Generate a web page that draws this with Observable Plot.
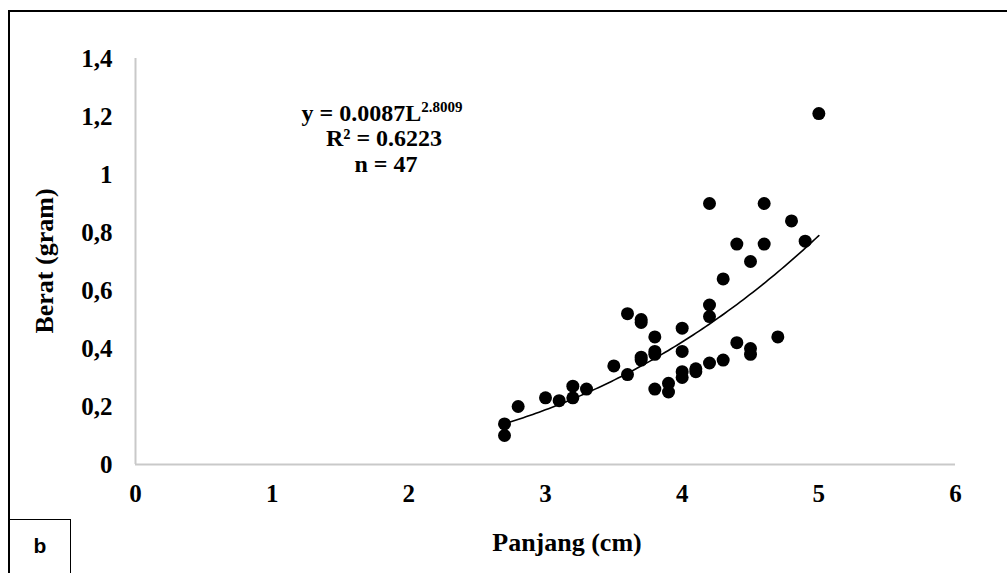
<!DOCTYPE html>
<html><head><meta charset="utf-8">
<script src="https://cdn.jsdelivr.net/npm/d3@7"></script>
<script src="https://cdn.jsdelivr.net/npm/@observablehq/plot@0.6"></script>
<style>
body{margin:0;background:#fff;}
#wrap{position:relative;width:1007px;height:573px;overflow:hidden;background:#fff;}
#frame{position:absolute;left:8px;top:10px;width:1010px;height:620px;border:2.5px solid #000;box-sizing:border-box;pointer-events:none;}
#bbox{position:absolute;left:9px;top:519px;width:62px;height:80px;border:1.5px solid #000;box-sizing:border-box;background:#fff;}
#bbox span{position:absolute;left:0;width:100%;top:14px;text-align:center;font:bold 21px "Liberation Sans",Arial,sans-serif;color:#000;}
#chart{position:absolute;left:0;top:0;}
</style>
</head><body>
<div id="wrap"><div id="chart"></div><div id="frame"></div><div id="bbox"><span>b</span></div></div>
<script>
// Data
const panjang = [5.0, 4.2, 4.6, 4.8, 4.4, 4.6, 4.9, 4.5, 4.3, 4.2, 4.2, 3.6, 3.7, 3.7, 3.8, 4.0, 3.8, 3.8, 4.0, 3.7, 3.7, 3.5, 3.6, 4.4, 4.5, 4.5, 4.7, 4.3, 4.2, 4.1, 4.1, 4.0, 4.0, 3.8, 3.9, 3.9, 3.3, 3.2, 3.2, 3.1, 3.0, 2.8, 2.7, 2.7];
const berat   = [1.21, 0.90, 0.90, 0.84, 0.76, 0.76, 0.77, 0.70, 0.64, 0.55, 0.51, 0.52, 0.50, 0.49, 0.44, 0.47, 0.39, 0.38, 0.39, 0.37, 0.36, 0.34, 0.31, 0.42, 0.40, 0.38, 0.44, 0.36, 0.35, 0.33, 0.32, 0.32, 0.30, 0.26, 0.28, 0.25, 0.26, 0.27, 0.23, 0.22, 0.23, 0.20, 0.14, 0.10];
const xTicks = [0, 1, 2, 3, 4, 5, 6];
const yTicks = [0, 0.2, 0.4, 0.6, 0.8, 1.0, 1.2, 1.4];
const coefA = 0.0087, coefB = 2.8009, r2 = "0.6223", nObs = 47;
const xTitle = "Panjang (cm)", yTitle = "Berat (gram)";

const points = panjang.map((L, i) => ({L, W: berat[i]}));
const [lmin, lmax] = d3.extent(panjang);
const fit = d3.range(0, 101).map(i => {const L = lmin + (lmax - lmin) * i / 100; return {L, W: coefA * Math.pow(L, coefB)};});

const serif = "'Liberation Serif','Times New Roman',serif";
const plot = Plot.plot({
  width: 1007, height: 573,
  marginLeft: 135, marginRight: 52, marginTop: 58, marginBottom: 109,
  style: {fontFamily: serif, fontWeight: "bold", fontSize: "25px", color: "#000", background: "transparent"},
  x: {domain: [0, 6]},
  y: {domain: [0, 1.4]},
  marks: [
    Plot.ruleX([0], {stroke: "#c9c9c9", strokeWidth: 2}),
    Plot.ruleY([0], {stroke: "#c9c9c9", strokeWidth: 2}),
    Plot.axisX({ticks: xTicks, tickSize: 0, tickPadding: 20, label: null, fontSize: 25, tickFormat: d => String(d)}),
    Plot.axisY({ticks: yTicks, tickSize: 0, tickPadding: 23, label: null, fontSize: 25,
      tickFormat: d => String(+d.toFixed(1)).replace(".", ",")}),
    Plot.line(fit, {x: "L", y: "W", stroke: "#000", strokeWidth: 1.6}),
    Plot.dot(points, {x: "L", y: "W", r: 6.5, fill: "#000", stroke: null})
  ]
});
document.getElementById("chart").appendChild(plot);

const svg = d3.select(plot);
svg.append("text").attr("x", 567).attr("y", 551).attr("text-anchor", "middle")
  .attr("font-family", serif).attr("font-weight", "bold").attr("font-size", 26).attr("fill", "#000").text(xTitle);
svg.append("text").attr("transform", "translate(53,261) rotate(-90)").attr("text-anchor", "middle")
  .attr("font-family", serif).attr("font-weight", "bold").attr("font-size", 26).attr("fill", "#000").text(yTitle);

const eq = svg.append("g").attr("font-family", serif).attr("font-weight", "bold").attr("font-size", 24)
  .attr("fill", "#000").attr("text-anchor", "middle");
const l1 = eq.append("text").attr("x", 382).attr("y", 121);
l1.append("tspan").text("y = " + coefA + "L");
l1.append("tspan").attr("dy", -9).attr("font-size", 15).text(String(coefB));
eq.append("text").attr("x", 384).attr("y", 146).text("R² = " + r2);
eq.append("text").attr("x", 386).attr("y", 172).text("n = " + nObs);
</script>
</body></html>
